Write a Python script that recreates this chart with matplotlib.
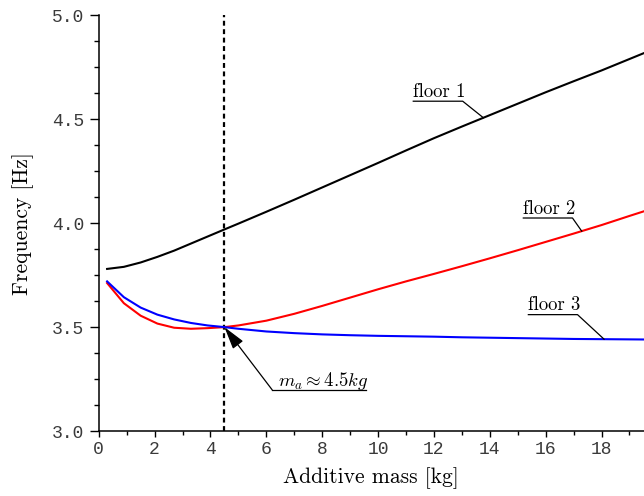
import numpy as np
import matplotlib
matplotlib.use("Agg")
import matplotlib.pyplot as plt
from matplotlib.ticker import MultipleLocator

# additive mass [kg]
mass = [0.3, 0.9, 1.5, 2.1, 2.7, 3.3, 3.9, 4.5, 5.0, 6.0, 7.0, 8.0, 9.0, 10.0,
        11.0, 12.0, 13.0, 14.0, 15.0, 16.0, 17.0, 18.0, 19.0, 20.0]

# natural frequencies [Hz]
floor1 = [3.780, 3.790, 3.811, 3.838, 3.868, 3.902, 3.936, 3.970, 3.998, 4.055,
          4.113, 4.172, 4.231, 4.290, 4.350, 4.409, 4.465, 4.520, 4.575, 4.630,
          4.683, 4.735, 4.790, 4.845]
floor2 = [3.712, 3.615, 3.555, 3.517, 3.497, 3.492, 3.495, 3.500, 3.508, 3.531,
          3.564, 3.602, 3.642, 3.682, 3.720, 3.756, 3.793, 3.831, 3.870, 3.910,
          3.950, 3.991, 4.035, 4.078]
floor3 = [3.720, 3.644, 3.594, 3.560, 3.537, 3.520, 3.508, 3.500, 3.492, 3.479,
          3.471, 3.465, 3.461, 3.458, 3.456, 3.454, 3.451, 3.449, 3.447, 3.445,
          3.443, 3.442, 3.441, 3.440]

m_a = 4.5
labels = ["floor 1", "floor 2", "floor 3"]

# label layout: text left, underline y, underline end, pointer x
label_pos = [(11.26, 4.587, 13.03, 13.77),
             (15.20, 4.025, 16.96, 17.29),
             (15.38, 3.560, 17.14, 18.09)]

tick_font = dict(family="Liberation Mono", size=13, color="#3a3a3a")

fig = plt.figure(figsize=(6.44, 4.96), dpi=100)
ax = fig.add_axes([0.1533, 0.131, 0.8467, 0.838])

curves = [floor1, floor2, floor3]
colors = ["black", "red", "blue"]
for yv, c in zip(curves, colors):
    ax.plot(mass, yv, color=c, lw=1.5, zorder=3)

ax.axvline(m_a, color="black", lw=1.6, ls=(0, (2.2, 1.6)), zorder=2)

ax.set_xlim(0, 19.52)
ax.set_ylim(3.0, 5.0)
ax.xaxis.set_major_locator(MultipleLocator(2))
ax.xaxis.set_minor_locator(MultipleLocator(1))
ax.yaxis.set_major_locator(MultipleLocator(0.5))
ax.yaxis.set_minor_locator(MultipleLocator(0.125))
ax.yaxis.set_major_formatter(lambda v, p: f"{v:.1f}")

for s in ["top", "right"]:
    ax.spines[s].set_visible(False)
for s in ["left", "bottom"]:
    ax.spines[s].set_linewidth(1.1)

ax.tick_params(axis="y", which="major", length=6.5, width=1.0, pad=4)
ax.tick_params(axis="y", which="minor", length=3.8, width=1.0)
ax.tick_params(axis="x", which="major", length=4.5, width=1.0, pad=3)
ax.tick_params(axis="x", which="minor", length=2.8, width=1.0)
for lab in ax.get_xticklabels() + ax.get_yticklabels():
    lab.set(**tick_font)

ax.set_xlabel("Additive mass [kg]", family="cmr10", fontsize=15.5, labelpad=6)
ax.set_ylabel("Frequency [Hz]", family="cmr10", fontsize=15.5, labelpad=13)

# floor labels with underline and leader to the curve
for name, yv, (tx, uy, ux1, px) in zip(labels, curves, label_pos):
    py = np.interp(px, mass, yv)
    ax.plot([tx, ux1, px], [uy, uy, py], color="black", lw=0.9, zorder=4)
    ax.annotate(name, (tx, uy), xytext=(0, 3), textcoords="offset points",
                family="cmr10", fontsize=13.5, va="baseline", ha="left")

# crossing annotation
y_cross = np.interp(m_a, mass, floor3)
ax.plot([6.21, 9.57], [3.198, 3.198], color="black", lw=0.9)
ax.annotate("", xy=(m_a, y_cross), xytext=(6.21, 3.198),
            arrowprops=dict(arrowstyle="-|>,head_length=1.0,head_width=0.28",
                            color="black", lw=0.9, mutation_scale=14,
                            shrinkA=0, shrinkB=0), zorder=5)
plt.rcParams["mathtext.fontset"] = "cm"
ax.annotate(r"$m_a \approx 4.5kg$", (6.40, 3.198), xytext=(0, 3),
            textcoords="offset points", fontsize=13.5, va="baseline", ha="left")

fig.savefig("out.png", dpi=100)
